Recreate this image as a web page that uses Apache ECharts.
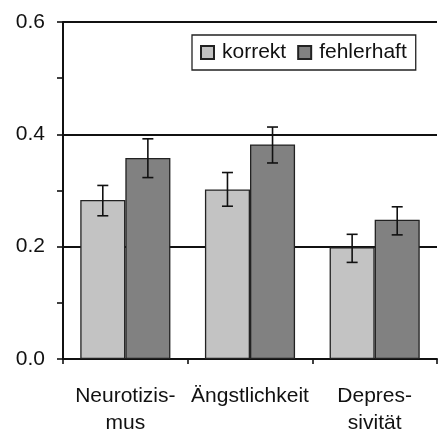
<!DOCTYPE html>
<html><head><meta charset="utf-8">
<script src="https://cdn.jsdelivr.net/npm/echarts@6/dist/echarts.min.js"></script>
<style>html,body{margin:0;padding:0;background:#fff}#c{width:444px;height:437px}</style>
</head><body><div id="c"></div>
<script>
const categories = ['Neurotizis-\nmus', 'Ängstlichkeit', 'Depres-\nsivität'];
const seriesNames = ['korrekt', 'fehlerhaft'];
const korrekt = [0.283, 0.302, 0.199];
const korrektLow = [0.255, 0.272, 0.172];
const korrektHigh = [0.309, 0.332, 0.222];
const fehlerhaft = [0.358, 0.382, 0.248];
const fehlerhaftLow = [0.323, 0.349, 0.221];
const fehlerhaftHigh = [0.392, 0.413, 0.271];
const yTicks = [0, 0.2, 0.4, 0.6];

const FONT = 'Liberation Sans, Arial, sans-serif';
const GAP = 0.277;
function errData(low, high) { return categories.map((c, i) => [i, low[i], high[i]]); }
function errSeries(name, low, high, side) {
  return {
    type: 'custom', name: name + '_err', z: 10, silent: true,
    data: errData(low, high),
    renderItem: function (params, api) {
      const i = api.value(0);
      const catW = api.size([1, 0])[0];
      const bw = catW * (1 - GAP) / 2;
      const pLo = api.coord([i, api.value(1)]);
      const pHi = api.coord([i, api.value(2)]);
      const x = pLo[0] + side * bw / 2;
      const cap = 5.5;
      const st = { stroke: '#111', lineWidth: 1.6 };
      return { type: 'group', children: [
        { type: 'line', shape: { x1: x, y1: pLo[1], x2: x, y2: pHi[1] }, style: st },
        { type: 'line', shape: { x1: x - cap, y1: pLo[1], x2: x + cap, y2: pLo[1] }, style: st },
        { type: 'line', shape: { x1: x - cap, y1: pHi[1], x2: x + cap, y2: pHi[1] }, style: st }
      ]};
    }
  };
}
const chart = echarts.init(document.getElementById('c'));
chart.setOption({
  animation: false,
  textStyle: { fontFamily: FONT },
  grid: { left: 63, right: 7, top: 22, bottom: 75 },
  legend: {
    data: seriesNames.map(n => ({ name: n, icon: 'rect' })),
    left: 192, top: 35,
    padding: [7, 9, 7, 8],
    borderColor: '#222', borderWidth: 1.3,
    itemWidth: 13, itemHeight: 13, itemGap: 11,
    textStyle: { fontSize: 21, color: '#111', fontFamily: FONT, padding: [0, 0, 0, 3] }
  },
  xAxis: {
    type: 'category', data: categories,
    axisLine: { lineStyle: { color: '#111', width: 2 } },
    axisTick: { show: true, length: 5, lineStyle: { color: '#111', width: 1.6 } },
    axisLabel: { fontSize: 21, color: '#111', fontFamily: FONT, margin: 24, lineHeight: 27, interval: 0 }
  },
  yAxis: {
    type: 'value', min: yTicks[0], max: yTicks[yTicks.length - 1], interval: 0.2,
    axisLine: { show: true, lineStyle: { color: '#111', width: 2 } },
    axisTick: { show: true, length: 6, lineStyle: { color: '#111', width: 1.6 } },
    minorTick: { show: true, splitNumber: 2, length: 6, lineStyle: { color: '#111', width: 1.6 } },
    splitLine: { show: true, lineStyle: { color: '#111', width: 2 } },
    axisLabel: { fontSize: 21, color: '#111', fontFamily: FONT, margin: 18, formatter: v => v.toFixed(1) }
  },
  series: [
    { type: 'bar', name: seriesNames[0], data: korrekt, barGap: '0%', barCategoryGap: (GAP * 100) + '%',
      itemStyle: { color: '#c3c3c3', borderColor: '#222', borderWidth: 1.3 } },
    { type: 'bar', name: seriesNames[1], data: fehlerhaft, barGap: '0%', barCategoryGap: (GAP * 100) + '%',
      itemStyle: { color: '#818181', borderColor: '#222', borderWidth: 1.3 } },
    errSeries(seriesNames[0], korrektLow, korrektHigh, -1),
    errSeries(seriesNames[1], fehlerhaftLow, fehlerhaftHigh, 1)
  ]
});
</script></body></html>
